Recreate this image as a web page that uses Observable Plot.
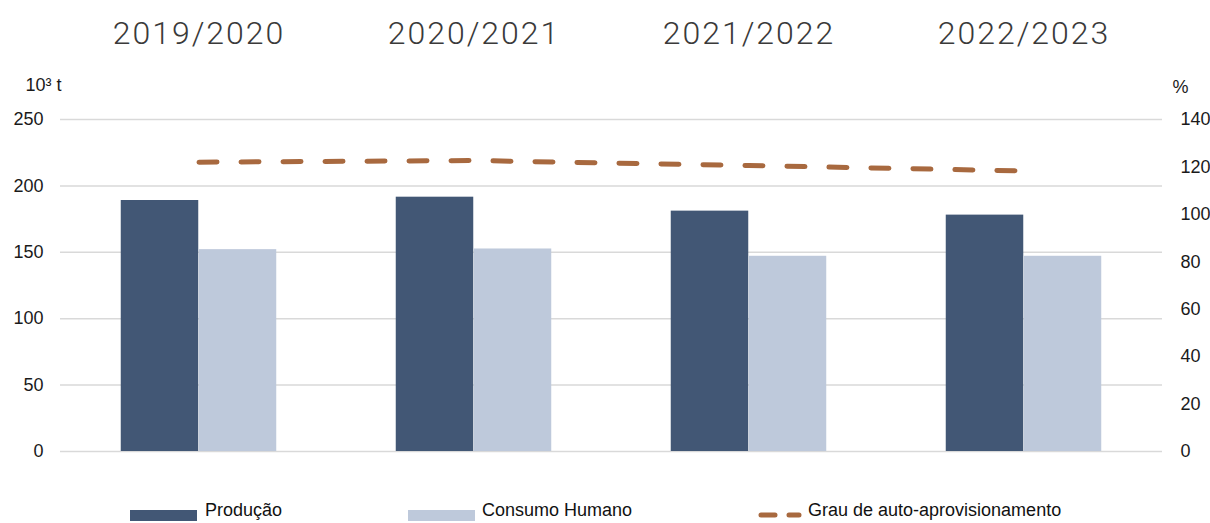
<!DOCTYPE html>
<html>
<head>
<meta charset="utf-8">
<script src="https://cdn.jsdelivr.net/npm/d3@7"></script>
<script src="https://cdn.jsdelivr.net/npm/@observablehq/plot@0.6"></script>
<style>
  html, body { margin: 0; padding: 0; background: #fff; }
  #wrap { width: 1210px; }
  #chart svg [aria-label="x-axis tick label"] text { letter-spacing: 2px; }
  #legend { position: relative; width: 1210px; height: 28px; overflow: hidden;
    font-family: "Liberation Sans", Arial, sans-serif; font-size: 18px; color: #111; }
  #legend .sw { position: absolute; top: 15px; height: 11px; width: 67px; }
  #legend .lb { position: absolute; top: 6px; line-height: 18px; white-space: nowrap; }
</style>
</head>
<body>
<div id="wrap">
  <div id="chart"></div>
  <div id="legend"></div>
</div>
<script>
// ---- data ----
const seasons = ["2019/2020", "2020/2021", "2021/2022", "2022/2023"];
const producao = [189, 191.5, 181, 178];
const consumoHumano = [152, 152.5, 147, 147];
const grauAutoAprovisionamento = [122, 122.7, 120.6, 118.3];
const leftTicks = [0, 50, 100, 150, 200, 250];
const rightTicks = [0, 20, 40, 60, 80, 100, 120, 140];
const seriesNames = ["Produção", "Consumo Humano", "Grau de auto-aprovisionamento"];

// ---- styles ----
const colProd = "#425775";
const colCons = "#bec9db";
const colLine = "#a8693f";
const leftMax = 250, rightMax = 140;
const toLeft = p => p * leftMax / rightMax;

const prodData = seasons.map((s, i) => ({season: s, value: producao[i]}));
const consData = seasons.map((s, i) => ({season: s, value: consumoHumano[i]}));
const lineData = seasons.map((s, i) => ({season: s, value: grauAutoAprovisionamento[i]}));

const W = 1210, H = 495;
const mL = 60, mR = 48, mT = 119, mB = 44;
const step = (W - mL - mR) / seasons.length;
const barW = 78;

const chart = Plot.plot({
  width: W,
  height: H,
  marginLeft: mL,
  marginRight: mR,
  marginTop: mT,
  marginBottom: mB,
  style: {fontFamily: "'Liberation Sans', Arial, sans-serif", fontSize: "18px", color: "#1a1a1a", background: "#fff"},
  x: {type: "band", domain: seasons, padding: 0, label: null},
  y: {domain: [0, leftMax], label: null},
  marks: [
    Plot.gridY(leftTicks, {stroke: "#d9d9d9", strokeOpacity: 1, strokeWidth: 1.5}),
    Plot.barY(prodData, {x: "season", y: "value", fill: colProd,
      insetLeft: step / 2 - barW, insetRight: step / 2}),
    Plot.barY(consData, {x: "season", y: "value", fill: colCons,
      insetLeft: step / 2, insetRight: step / 2 - barW}),
    Plot.line(lineData, {x: "season", y: d => toLeft(d.value), stroke: colLine,
      strokeWidth: 5, strokeDasharray: "18,24", strokeLinecap: "round"}),
    Plot.axisY(leftTicks, {anchor: "left", tickSize: 0, tickPadding: 17, fontSize: 18, label: null}),
    Plot.axisY(rightTicks.map(toLeft), {anchor: "right", tickSize: 0, tickPadding: 18, fontSize: 18, label: null,
      tickFormat: d => String(Math.round(d * rightMax / leftMax))}),
    Plot.axisX({anchor: "top", tickSize: 0, tickPadding: 76, fontSize: 32, label: null,
      fontFamily: "Roboto, 'Liberation Sans', sans-serif", fontWeight: 300, fill: "#3a3a3a"}),
    Plot.text(["10³ t"], {frameAnchor: "top-left", dx: -35, dy: -34, textAnchor: "start", lineAnchor: "middle", fontSize: 18}),
    Plot.text(["%"], {frameAnchor: "top-right", dx: 10, dy: -32, textAnchor: "start", lineAnchor: "middle", fontSize: 18})
  ]
});
document.getElementById("chart").appendChild(chart);

// ---- legend ----
const legend = document.getElementById("legend");
legend.innerHTML = `
  <div class="sw" style="left:130px;background:${colProd}"></div>
  <div class="lb" style="left:205px">${seriesNames[0]}</div>
  <div class="sw" style="left:408px;background:${colCons}"></div>
  <div class="lb" style="left:482px">${seriesNames[1]}</div>
  <svg style="position:absolute;left:755px;top:12px" width="50" height="16">
    <line x1="6" y1="8" x2="44" y2="8" stroke="${colLine}" stroke-width="5" stroke-linecap="round" stroke-dasharray="14,14"/>
  </svg>
  <div class="lb" style="left:808px">${seriesNames[2]}</div>
`;
</script>
</body>
</html>
